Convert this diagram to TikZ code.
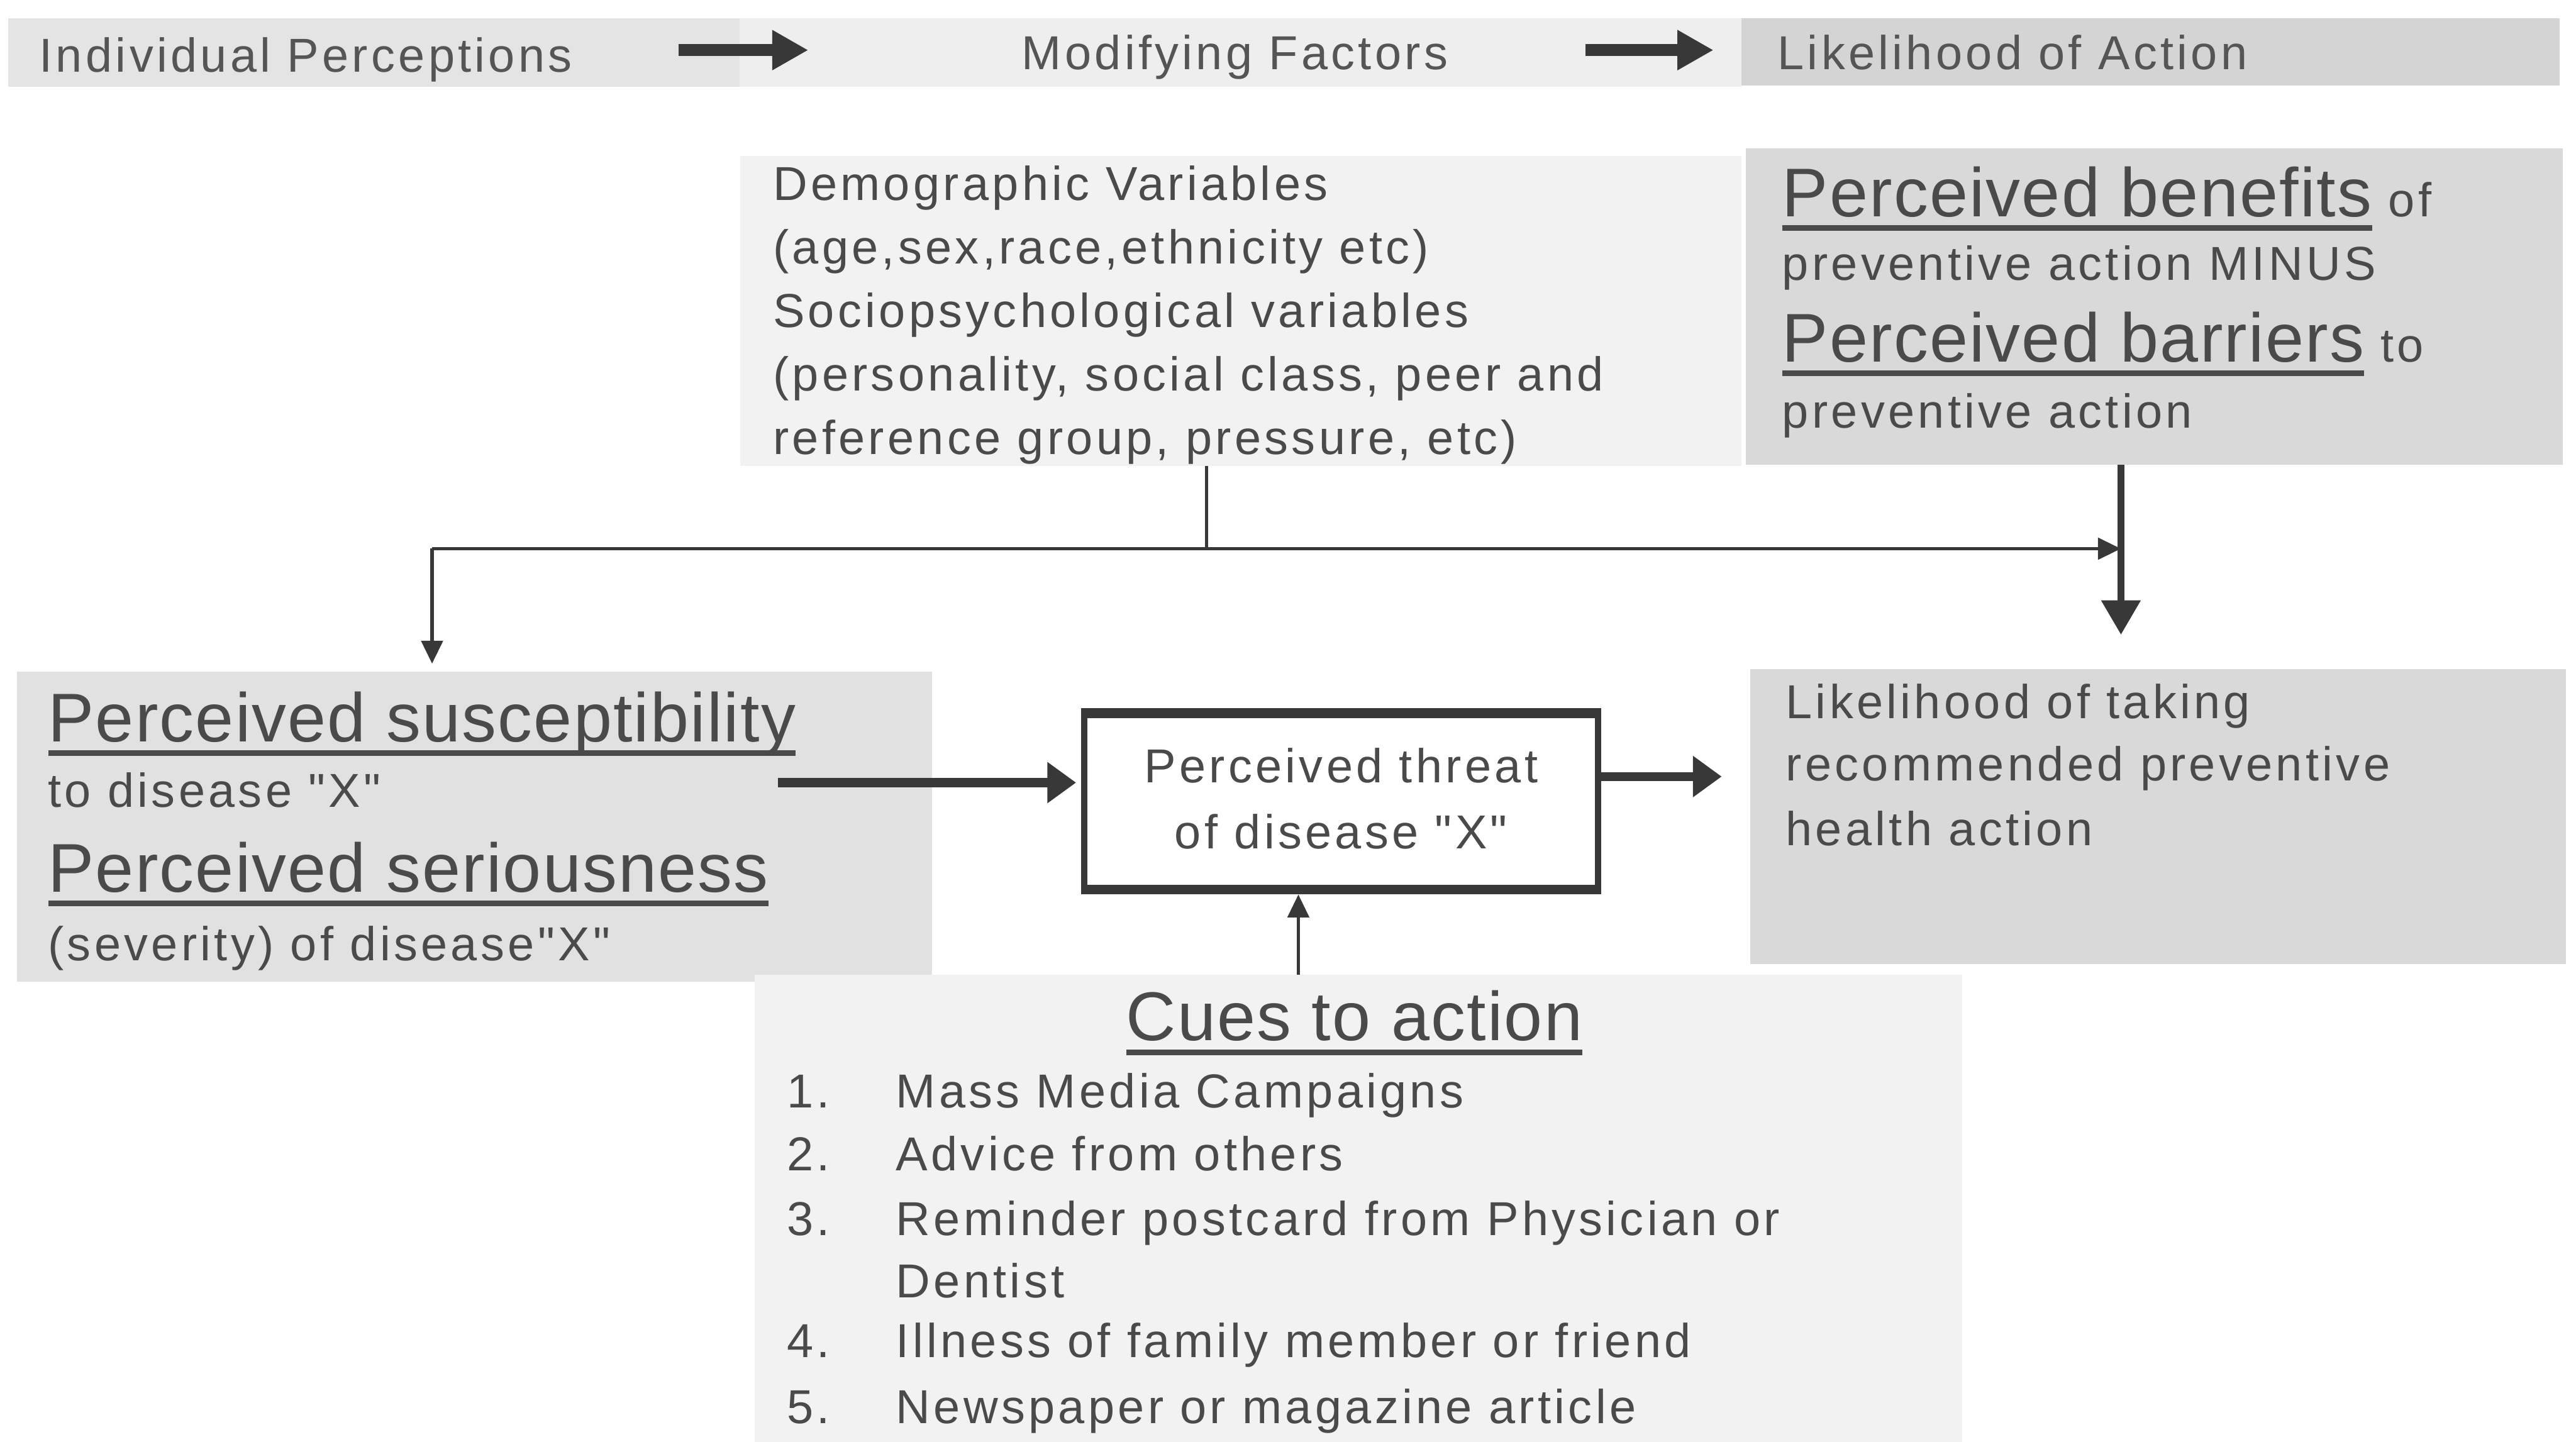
\documentclass[tikz,border=0pt]{standalone}
\usepackage{fontspec}
\setmainfont{Liberation Sans}
\newfontfamily\smfam{Liberation Sans}[LetterSpace=7.0]
\newfontfamily\bgfam{Liberation Sans}[LetterSpace=2.0]
\newcommand\smallf{\smfam\fontsize{29}{35}\selectfont}
\newcommand\bigf{\bgfam\fontsize{42}{50}\selectfont}
\newsavebox\ulbox
\newcommand\myul[1]{\sbox\ulbox{#1}\rlap{\rule[-8.8pt]{\wd\ulbox}{3.5pt}}\usebox\ulbox}
\usetikzlibrary{arrows.meta}
\definecolor{tcol}{HTML}{4A4A4A}
\definecolor{hcol}{HTML}{555555}
\definecolor{acol}{HTML}{383838}
\definecolor{fdark}{HTML}{D9D9D9}
\definecolor{fmid}{HTML}{E1E1E1}
\definecolor{flight}{HTML}{F2F2F2}
\definecolor{bandL}{HTML}{E4E4E4}
\definecolor{bandM}{HTML}{EEEEEE}
\definecolor{bandR}{HTML}{D4D4D4}
\tikzset{
  box/.style={anchor=north west, inner sep=0pt, outer sep=0pt, draw=none},
  txt/.style={anchor=base west, inner sep=0pt, outer sep=0pt, font=\smallf, text=tcol},
  bigtxt/.style={anchor=base west, inner sep=0pt, outer sep=0pt, font=\bigf, text=tcol},
  ctxt/.style={anchor=base, inner sep=0pt, outer sep=0pt, font=\smallf, text=tcol},
  hdr/.style={anchor=base west, inner sep=0pt, outer sep=0pt, font=\smallf, text=hcol},
  fat/.style={draw=acol, line width=7.5pt, -{Triangle[length=22pt,width=23pt]}},
  fatm/.style={draw=acol, line width=5.5pt, -{Triangle[length=17.5pt,width=24pt]}},
  thin/.style={draw=acol, line width=2.2pt},
  thinarr/.style={draw=acol, line width=2.2pt, -{Triangle[length=14pt,width=13pt]}},
  midarr/.style={draw=acol, line width=4.5pt, -{Triangle[length=21pt,width=23pt]}}
}
\begin{document}
\begin{tikzpicture}[x=1pt,y=-1pt]
\useasboundingbox (0,0) rectangle (1568,877.6);
% top band
\node[box, fill=bandL, minimum width=445pt, minimum height=42pt] (bandl) at (5,11) {};
\node[box, fill=bandM, minimum width=610pt, minimum height=42pt] (bandm) at (450,11) {};
\node[box, fill=bandR, minimum width=498pt, minimum height=41pt] (bandr) at (1060,11) {};
% boxes
\node[box, fill=flight, minimum width=609.4pt, minimum height=188.5pt] (demo) at (450.6,95) {};
\node[box, fill=fdark, minimum width=497.3pt, minimum height=192.6pt] (ben) at (1062.7,90.4) {};
\node[box, fill=fmid, minimum width=557pt, minimum height=188.5pt] (sus) at (10.4,409) {};
\node[box, fill=fdark, minimum width=496.6pt, minimum height=179.6pt] (lik) at (1065.4,407.4) {};
\node[box, fill=flight, minimum width=735pt, minimum height=285pt] (cue) at (459.4,593.3) {};
\node[box, draw=acol, line width=4pt, fill=white, minimum width=312.7pt, minimum height=109.3pt] (thr) at (660,433.2) {};
\draw[acol, line width=6pt] ([yshift=-1pt]thr.north west) -- ([yshift=-1pt]thr.north east);
\draw[acol, line width=6pt] ([yshift=1pt]thr.south west) -- ([yshift=1pt]thr.south east);

% header texts
\node[hdr] (h1) at (24,43.9) {Individual Perceptions};
\node[hdr] (h2) at (622,42.3) {Modifying Factors};
\node[hdr] (h3) at (1082,42.3) {Likelihood of Action};
\coordinate (ha1) at (413,30.5);
\coordinate (hb1) at (492,30.5);
\coordinate (ha2) at (965,30.5);
\coordinate (hb2) at (1043,30.5);
\draw[fat] (ha1) -- (hb1);
\draw[fat] (ha2) -- (hb2);

% demographic
\node[txt] (d1) at (470.5,122) {Demographic Variables};
\node[txt] (d2) at (470.5,160.6) {(age,sex,race,ethnicity etc)};
\node[txt] (d3) at (470.5,199.2) {Sociopsychological variables};
\node[txt] (d4) at (470.5,237.8) {(personality, social class, peer and};
\node[txt] (d5) at (470.5,276.4) {reference group, pressure, etc)};

% benefits / barriers
\node[bigtxt] (b1) at (1084.8,131.7) {\myul{Perceived benefits}{\smallf\ of}};
\node[txt] (b2) at (1084.8,170.4) {preventive action MINUS};
\node[bigtxt] (b3) at (1084.8,220.3) {\myul{Perceived barriers}{\smallf\ to}};
\node[txt] (b4) at (1084.8,260.5) {preventive action};

% susceptibility / seriousness
\node[bigtxt] (s1) at (29.3,451.5) {\myul{Perceived susceptibility}};
\node[txt] (s2) at (29.3,491.3) {to disease "X"};
\node[bigtxt] (s3) at (29.3,543) {\myul{Perceived seriousness}};
\node[txt] (s4) at (29.3,584.6) {(severity) of disease"X"};

% threat
\node[ctxt] (t1) at (816.3,476.4) {Perceived threat};
\node[ctxt] (t2) at (816.3,516.5) {of disease "X"};

% likelihood
\node[txt] (l1) at (1087,437.4) {Likelihood of taking};
\node[txt] (l2) at (1087,475.3) {recommended preventive};
\node[txt] (l3) at (1087,514.5) {health action};

% cues
\node[bigtxt] (c0) at (685.5,633.5) {\myul{Cues to action}};
\node[txt] (n1) at (479,674.5) {1.};
\node[txt] (c1) at (545.4,674.5) {Mass Media Campaigns};
\node[txt] (n2) at (479,712.7) {2.};
\node[txt] (c2) at (545.4,712.7) {Advice from others};
\node[txt] (n3) at (479,751.9) {3.};
\node[txt] (c3) at (545.4,751.9) {Reminder postcard from Physician or};
\node[txt] (c3b) at (545.4,790.1) {Dentist};
\node[txt] (n4) at (479,826.4) {4.};
\node[txt] (c4) at (545.4,826.4) {Illness of family member or friend};
\node[txt] (n5) at (479,866.6) {5.};
\node[txt] (c5) at (545.4,866.6) {Newspaper or magazine article};

% connectors
\coordinate (j1) at (734.5,334);
\coordinate (jl) at (263,334);
\coordinate (jr) at (1291,334);
\draw[draw=acol, line width=1.8pt] (demo.south -| j1) -- (j1);
\draw[thin] (j1) -- (jl);
\draw[thinarr, shorten >=5pt] (jl) -- (jl |- sus.north);
\draw[thinarr] (j1) -- (jr);
\draw[midarr, shorten >=21pt] (ben.south -| jr) -- (lik.north -| jr);

\coordinate (sa) at (473.5,476.4);
\draw[fatm, shorten >=5pt] (sa) -- (sa -| thr.west);
\coordinate (ta) at (1048,472.7);
\draw[fatm] (thr.east |- ta) -- (ta);
\coordinate (ca) at (790.3,0);
\draw[draw=acol, line width=2pt, -{Triangle[length=14pt,width=13pt]}, shorten >=2pt] (cue.north -| ca) -- (thr.south -| ca);
\end{tikzpicture}
\end{document}
